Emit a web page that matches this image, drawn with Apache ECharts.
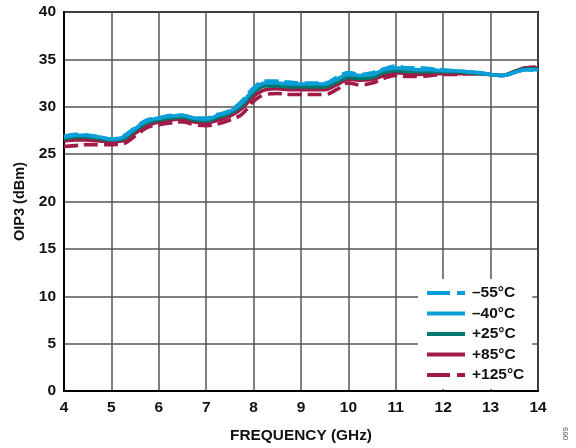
<!DOCTYPE html>
<html><head><meta charset="utf-8">
<script src="https://cdn.jsdelivr.net/npm/echarts@6/dist/echarts.min.js"></script>
<style>html,body{margin:0;padding:0;background:#fff}#c{width:576px;height:448px}</style>
</head><body><div id="c"></div>
<script>
var freq = [4,4.25,4.5,4.75,5,5.25,5.5,5.75,6,6.25,6.5,6.75,7,7.25,7.5,7.75,8,8.25,8.5,8.75,9,9.25,9.5,9.75,10,10.25,10.5,10.75,11,11.25,11.5,11.75,12,12.25,12.5,12.75,13,13.25,13.5,13.75,14];
var m55 = [26.9,27.1,27.0,26.8,26.6,26.9,27.8,28.6,28.8,29.1,29.1,28.8,28.8,29.2,29.6,30.6,32.0,32.7,32.7,32.6,32.5,32.5,32.5,33.1,33.6,33.4,33.6,34.0,34.3,34.1,34.1,34.0,33.9,33.8,33.7,33.6,33.4,33.3,33.6,33.9,33.8];
var m40 = [26.8,27.0,27.0,26.8,26.6,26.8,27.7,28.5,28.8,29.0,29.1,28.8,28.7,29.1,29.5,30.4,31.8,32.5,32.5,32.4,32.4,32.4,32.4,32.9,33.4,33.3,33.4,33.9,34.1,34.0,33.9,33.9,33.8,33.8,33.7,33.6,33.4,33.3,33.6,33.9,33.9];
var p25 = [26.6,26.8,26.8,26.6,26.5,26.6,27.5,28.3,28.6,28.8,28.9,28.6,28.5,28.9,29.3,30.1,31.5,32.2,32.2,32.1,32.1,32.1,32.1,32.6,33.1,33.0,33.1,33.6,33.8,33.7,33.7,33.7,33.7,33.7,33.6,33.5,33.4,33.3,33.7,34.0,34.0];
var p85 = [26.4,26.5,26.5,26.4,26.3,26.4,27.2,28.0,28.4,28.6,28.7,28.4,28.3,28.6,29.0,29.8,31.1,31.8,31.9,31.8,31.8,31.8,31.8,32.3,32.9,32.8,32.9,33.3,33.6,33.5,33.4,33.5,33.5,33.5,33.5,33.5,33.4,33.3,33.7,34.1,34.1];
var p125 = [25.8,25.9,26.0,26.0,26.0,26.1,26.9,27.8,28.1,28.3,28.4,28.1,28.0,28.2,28.6,29.2,30.6,31.3,31.4,31.3,31.3,31.3,31.3,31.8,32.5,32.3,32.5,33.0,33.3,33.2,33.2,33.3,33.4,33.4,33.5,33.5,33.4,33.3,33.7,34.1,34.2];
var seriesNames = ['\u201355\u00b0C','\u201340\u00b0C','+25\u00b0C','+85\u00b0C','+125\u00b0C'];
var xTicks = [4,5,6,7,8,9,10,11,12,13,14];
var yTicks = [0,5,10,15,20,25,30,35,40];

function pairs(v){ return freq.map(function(f,i){ return [f, v[i]]; }); }
var BLUE='#0a9fd8', GREEN='#00786c', RED='#a11a48';
function mk(name, data, color, dashed){
  return {name:name, type:'line', data:pairs(data), smooth:0.4, symbol:'none',
    lineStyle:{color:color, width:3.6, type: dashed ? [14,6] : 'solid'},
    itemStyle:{color:color}};
}
var ICON_SOLID = 'path://M0,0H38V4H0Z';
var ICON_DASH = 'path://M0,0H23V4H0Z M30,0H38V4H30Z';
var legendData = seriesNames.map(function(n, i){
  return {name:n, icon: (i===0 || i===4) ? ICON_DASH : ICON_SOLID};
});
var chart = echarts.init(document.getElementById('c'), null, {renderer:'canvas'});
var font = 'Arial, "Liberation Sans", sans-serif';
chart.setOption({
  animation:false,
  backgroundColor:'#fff',
  grid:{left:64, right:38, top:12, bottom:57, show:true, borderColor:'#000', borderWidth:2, backgroundColor:'transparent'},
  xAxis:{type:'value', min:xTicks[0], max:xTicks[xTicks.length-1], interval:1,
    name:'FREQUENCY (GHz)', nameLocation:'middle', nameGap:37,
    nameTextStyle:{fontFamily:font, fontWeight:'bold', fontSize:15.4, color:'#111'},
    axisLine:{show:true, lineStyle:{color:'#000', width:2}}, axisTick:{show:false},
    axisLabel:{fontFamily:font, fontWeight:'bold', fontSize:15.5, color:'#111', margin:9},
    splitLine:{show:true, lineStyle:{color:'#555', width:1.5}}},
  yAxis:{type:'value', min:yTicks[0], max:yTicks[yTicks.length-1], interval:5,
    name:'OIP3 (dBm)', nameLocation:'middle', nameGap:37,
    nameTextStyle:{fontFamily:font, fontWeight:'bold', fontSize:14.5, color:'#111'},
    axisLine:{show:true, lineStyle:{color:'#000', width:2}}, axisTick:{show:false},
    axisLabel:{fontFamily:font, fontWeight:'bold', fontSize:15.5, color:'#111', margin:8},
    splitLine:{show:true, lineStyle:{color:'#555', width:1.5}}},
  legend:{orient:'vertical', left:418, top:279, padding:[6,8,6,9], backgroundColor:'#fff',
    itemWidth:38, itemHeight:4, itemGap:4.5, data:legendData,
    textStyle:{fontFamily:font, fontWeight:'bold', fontSize:15.5, color:'#111', lineHeight:15, padding:[0,0,0,2]}},
  graphic:[{type:'text', left:562, top:427, rotation:Math.PI/2,
    style:{text:'069', fontFamily:font, fontSize:8, fill:'#555'}}],
  series:[
    mk(seriesNames[4], p125, RED, true),
    mk(seriesNames[3], p85, RED, false),
    mk(seriesNames[2], p25, GREEN, false),
    mk(seriesNames[1], m40, BLUE, false),
    mk(seriesNames[0], m55, BLUE, true)
  ]
});
</script></body></html>
